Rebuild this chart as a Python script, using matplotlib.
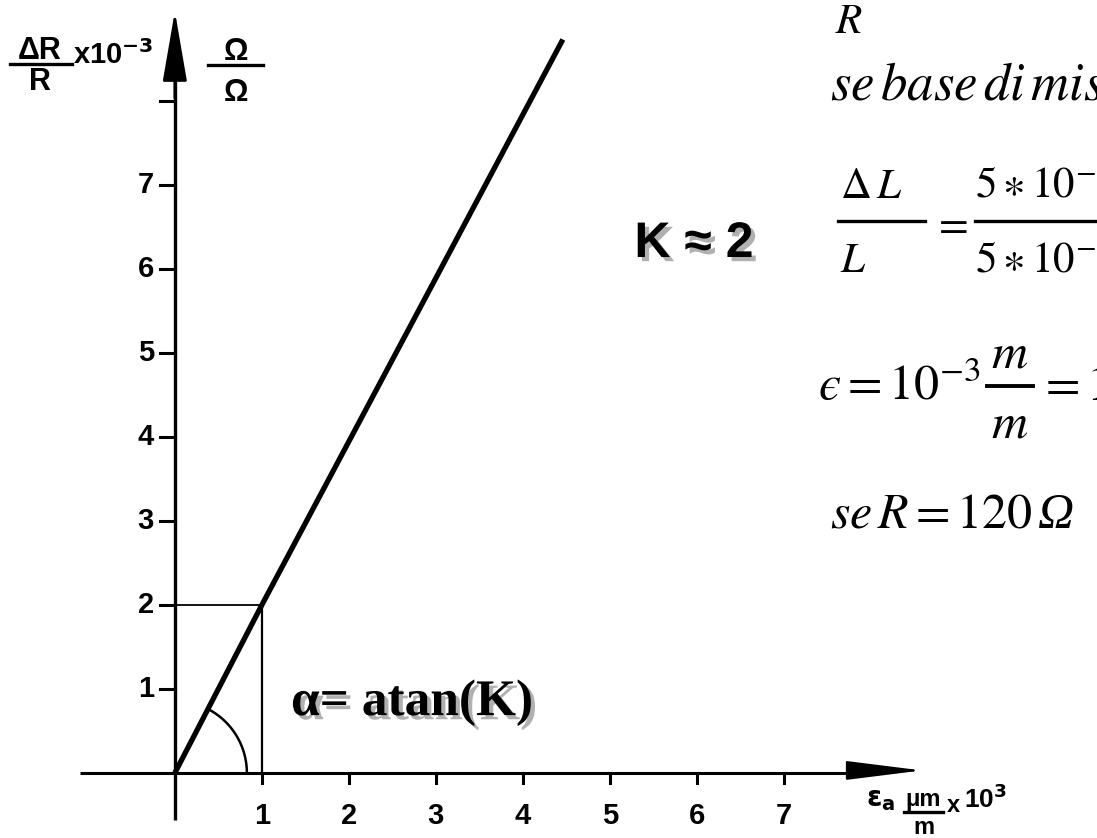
import numpy as np
import matplotlib
matplotlib.use("Agg")
import matplotlib.pyplot as plt
import matplotlib.patheffects as pe
from matplotlib.lines import Line2D

# strain (x 10^3 um/m) vs relative resistance change (x 10^-3)
strain = [0, 1, 4.46]
dr_r = [0, 2, 8.73]
k_point = (1, 2)
x_ticks = [1, 2, 3, 4, 5, 6, 7]
y_ticks = [1, 2, 3, 4, 5, 6, 7, 8]
y_labels = ['1', '2', '3', '4', '5', '6', '7', '']

W, H = 1097, 838
fig = plt.figure(figsize=(W / 100, H / 100), dpi=100)
ax = fig.add_axes([0, 0, 1, 1])
ax.set_xlim(-2.01, 10.6)
ax.set_ylim(-0.774, 9.2)
ax.axis('off')


def fx(x):
    return x / W


def fy(y):
    return 1 - y / H


def put(x, y, s, **kw):
    kw.setdefault('va', 'baseline')
    return fig.text(fx(x), fy(y), s, **kw)


def bar(x0, x1, y, lw=2.0):
    fig.add_artist(Line2D([fx(x0), fx(x1)], [fy(y), fy(y)],
                          transform=fig.transFigure, color='black', lw=lw))


# axes with arrows
ax.plot([-1.09, 8.0], [0, 0], color='black', lw=2.2, solid_capstyle='butt')
ax.plot([0, 0], [-0.56, 8.4], color='black', lw=2.4, solid_capstyle='butt')
ax.annotate('', xy=(8.62, 0.03), xytext=(7.7, 0.03),
            arrowprops=dict(arrowstyle='-|>,head_length=2.4,head_width=0.3',
                            mutation_scale=20, color='black', lw=1.5))
ax.annotate('', xy=(0, 9.1), xytext=(0, 8.0),
            arrowprops=dict(arrowstyle='-|>,head_length=2.2,head_width=0.38',
                            mutation_scale=20, color='black', lw=2))

# ticks
for xt in x_ticks:
    ax.plot([xt, xt], [0, -0.12], color='black', lw=2.2)
    ax.text(xt, -0.34, str(xt), ha='center', va='top', fontsize=21,
            fontweight='bold', family='Liberation Sans')
for yt, lab in zip(y_ticks, y_labels):
    ax.plot([-0.17, 0], [yt, yt], color='black', lw=2.2)
    ax.text(-0.24, yt, lab, ha='right', va='center', fontsize=21,
            fontweight='bold', family='Liberation Sans')

# characteristic line
ax.plot(strain, dr_r, color='black', lw=3.8, solid_capstyle='butt')

# construction lines at K
ax.plot([0, k_point[0]], [k_point[1], k_point[1]], color='black', lw=1.3)
ax.plot([k_point[0], k_point[0]], [0, k_point[1]], color='black', lw=1.6)

# angle arc, circular on screen
sx = W / (ax.get_xlim()[1] - ax.get_xlim()[0])
sy = H / (ax.get_ylim()[1] - ax.get_ylim()[0])
phi = np.arctan2(k_point[1] * sy, k_point[0] * sx)
t = np.linspace(0, phi, 60)
r_px = 72
ax.plot(r_px * np.cos(t) / sx, r_px * np.sin(t) / sy, color='black', lw=1.8)

# y axis label
lab = dict(fontweight='bold', family='Liberation Sans', math_fontfamily='dejavusans')
put(40, 59, 'ΔR', ha='center', fontsize=22, **lab)
bar(10, 72, 64, lw=2.4)
put(40, 90, 'R', ha='center', fontsize=22, **lab)
put(73, 64, r'x10$^{\mathbf{-3}}$', ha='left', fontsize=21, **lab)
put(236, 60, 'Ω', ha='center', fontsize=22, **lab)
bar(208, 263, 65, lw=2.4)
put(236, 101, 'Ω', ha='center', fontsize=22, **lab)

# x axis label
put(866, 806, r'$\mathbf{\epsilon_a}$', ha='left', fontsize=20, **lab)
put(923, 806, 'μm', ha='center', fontsize=17, **lab)
bar(904, 943, 812, lw=2.4)
put(924, 834, 'm', ha='center', fontsize=17, **lab)
put(947, 812, 'x', ha='left', fontsize=17, **lab)
put(964, 808, r'10$^{\mathbf{3}}$', ha='left', fontsize=19, **lab)

shadow = [pe.withSimplePatchShadow(offset=(3, -3), shadow_rgbFace='#b0b0b0', alpha=1)]
put(694, 244, 'K ≈ 2', ha='center', va='center', fontsize=36,
    fontweight='bold', family='Liberation Sans', path_effects=shadow)
put(291, 703, 'α= atan(K)', ha='left', va='center', fontsize=37,
    fontweight='bold', family='Liberation Serif', path_effects=shadow)

# notes on the right
note = dict(ha='left', math_fontfamily='stix')
put(835, 33, r'$R$', fontsize=31, **note)
put(830, 100, r'$se\,base\,di\,misura$', fontsize=38, **note)

put(840, 198, r'$\Delta\,L$', fontsize=31, **note)
bar(838, 925, 221, lw=2.4)
put(840, 272, r'$L$', fontsize=31, **note)
put(950, 236, r'$=$', ha='center', fontsize=31, math_fontfamily='stix')
put(975, 198, r'$5\ast10^{-6}$', fontsize=31, **note)
bar(975, 1097, 221, lw=2.4)
put(975, 272, r'$5\ast10^{-3}$', fontsize=31, **note)

put(818, 400, '$ϵ=10^{-3}$', fontsize=36, **note)
put(1010, 367, r'$m$', ha='center', fontsize=36, math_fontfamily='stix')
bar(987, 1033, 386, lw=2.8)
put(1010, 437, r'$m$', ha='center', fontsize=36, math_fontfamily='stix')
put(1038, 400, r'$=1000\,\mu$' + '$ϵ$', fontsize=36, **note)

put(830, 528, r'$se\,R=120$', fontsize=36, **note)
put(1038, 528, 'Ω', ha='left', fontsize=36, family='Liberation Serif', style='italic')

fig.savefig('out.png', dpi=100)
